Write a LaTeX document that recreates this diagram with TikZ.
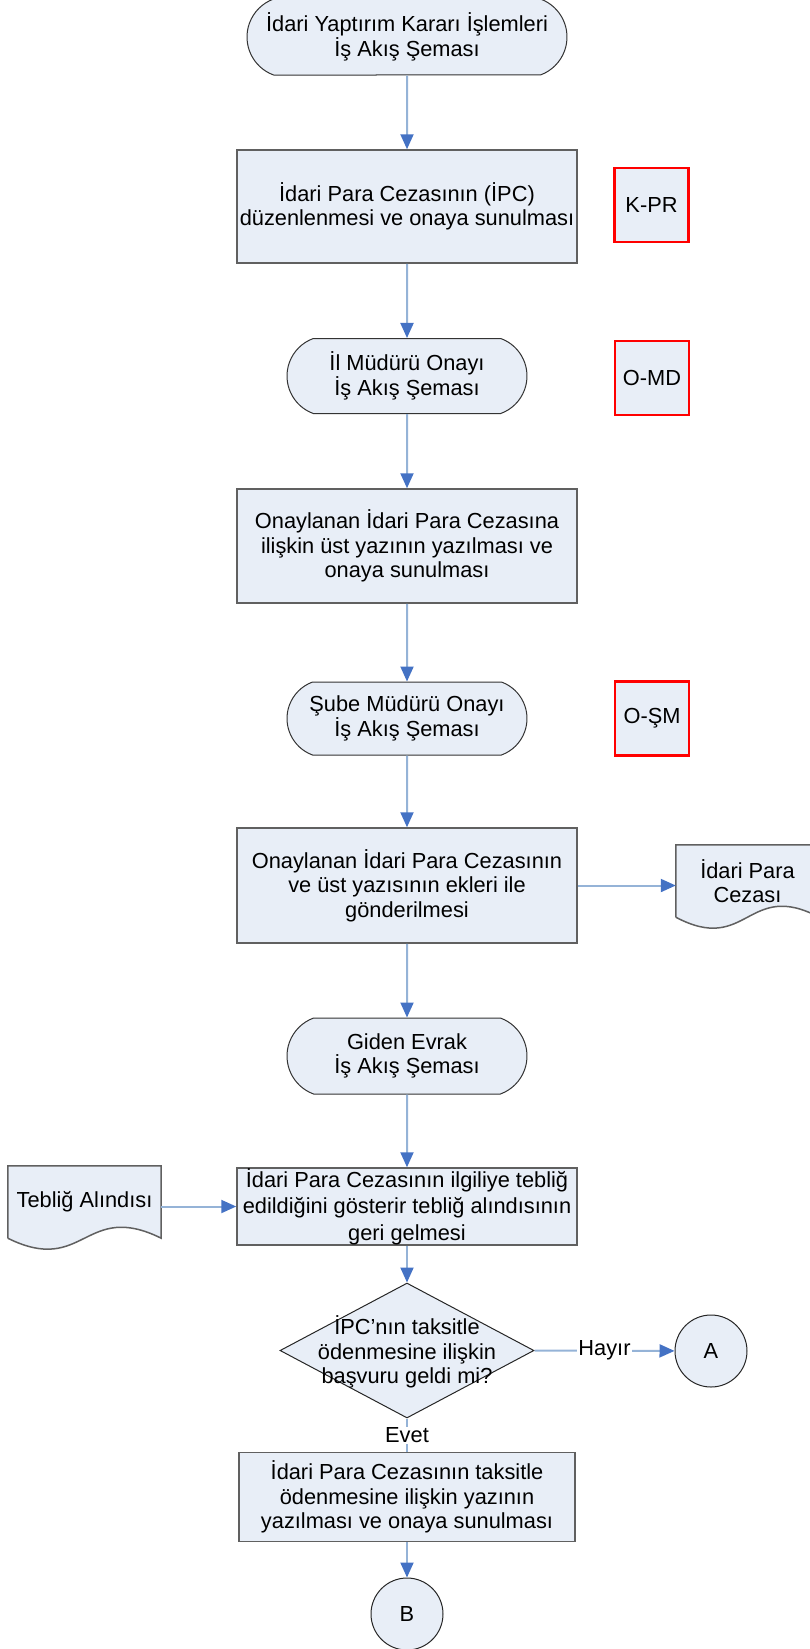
\documentclass[tikz,border=0pt]{standalone}
\usepackage{fontspec}
\setmainfont{Liberation Sans}
\usetikzlibrary{arrows.meta,shapes.misc,shapes.geometric,calc,backgrounds}

\definecolor{boxfill}{HTML}{E8EEF7}
\definecolor{linkblue}{HTML}{95B3D7}
\definecolor{tipblue}{HTML}{4472C4}
\definecolor{edgegray}{HTML}{606060}

\tikzset{
  every node/.style={font=\fontsize{21.8}{24.5}\selectfont, align=center},
  box/.style={draw=edgegray, line width=1.5pt, fill=boxfill, minimum width=340pt, inner sep=0pt},
  term/.style={rounded rectangle, rounded rectangle arc length=140, draw=black!80, line width=1pt,
    fill=boxfill, minimum width=240pt, minimum height=75pt, inner sep=0pt},
  refbox/.style={draw=red, line width=2.8pt, fill=boxfill, minimum width=74pt, minimum height=74pt, inner sep=0pt},
  docnode/.style={minimum height=72pt, inner sep=0pt},
  decision/.style={diamond, draw=black!85, line width=1pt, fill=boxfill, minimum width=254pt,
    minimum height=135pt, inner sep=0pt},
  conn/.style={circle, draw=black!85, line width=1pt, fill=boxfill, minimum size=72pt, inner sep=0pt},
  flow/.style={draw=linkblue, line width=2pt, -{Triangle[length=15pt,width=13pt,color=tipblue]}},
  plainflow/.style={draw=linkblue, line width=2pt},
  lbl/.style={fill=white, inner sep=1pt}
}

% document shape with wavy bottom
\newcommand{\docshape}[1]{%
  \filldraw[fill=boxfill, draw=edgegray, line width=1.5pt]
    (#1.south west) -- (#1.north west) -- (#1.north east) -- (#1.south east)
    .. controls ($(#1.south)+(0,-38)$) and ($(#1.south)+(0,38)$) .. (#1.south west);}

\begin{document}
\begin{tikzpicture}[x=1pt,y=-1pt]
\useasboundingbox (0,0) rectangle (809,1649);

% main column
\node[term, minimum width=320pt, minimum height=76pt] (t1) at (407,37) {İdari Yaptırım Kararı İşlemleri\\İş Akış Şeması};
\node[box, minimum height=113pt] (b1) at (407,206.5) {İdari Para Cezasının (İPC)\\düzenlenmesi ve onaya sunulması};
\node[term] (t2) at (407,376) {İl Müdürü Onayı\\İş Akış Şeması};
\node[box, minimum height=114pt] (b2) at (407,546) {Onaylanan İdari Para Cezasına\\ilişkin üst yazının yazılması ve\\onaya sunulması};
\node[term, minimum height=73pt] (t3) at (407,718.5) {Şube Müdürü Onayı\\İş Akış Şeması};
\node[box, minimum height=115pt] (b3) at (407,885.5) {Onaylanan İdari Para Cezasının\\ve üst yazısının ekleri ile\\gönderilmesi};
\node[term, minimum height=76pt] (t4) at (407,1056) {Giden Evrak\\İş Akış Şeması};
\node[box, minimum height=77pt, font=\fontsize{21.8}{26.5}\selectfont] (b4) at (407,1206.5) {İdari Para Cezasının ilgiliye tebliğ\\edildiğini gösterir tebliğ alındısının\\geri gelmesi};
\node[decision] (dec) at (407,1350.5) {};
\node (dectext) at (407,1352) {İPC’nın taksitle\\ödenmesine ilişkin\\başvuru geldi mi?};
\node[box, minimum width=336pt, minimum height=89pt] (b5) at (407,1497) {İdari Para Cezasının taksitle\\ödenmesine ilişkin yazının\\yazılması ve onaya sunulması};
\node[conn] (cB) at (407,1614) {B};
\node[conn] (cA) at (711,1351) {A};

% side boxes
\node[refbox] (kpr) at (651.5,205) {K-PR};
\node[refbox] (omd) at (652,378) {O-MD};
\node[refbox] (osm) at (652,718.5) {O-ŞM};

% documents
\node[docnode, minimum width=143pt] (doc1) at (747.5,881) {İdari Para\\Cezası};
\node[docnode, minimum width=153pt] (doc2) at (84.5,1202) {Tebliğ Alındısı};
\begin{scope}[on background layer]
\docshape{doc1}
\docshape{doc2}
\end{scope}

% connectors
\draw[flow] (t1) -- (b1);
\draw[flow] (b1) -- (t2);
\draw[flow] (t2) -- (b2);
\draw[flow] (b2) -- (t3);
\draw[flow] (t3) -- (b3);
\draw[flow] (b3) -- (t4);
\draw[flow] (t4) -- (b4);
\draw[flow] (b4) -- (dec);
\draw[flow] (b3.east) -- (b3.east -| doc1.west);
\draw[flow] (doc2.east |- b4.west) -- (b4.west);
\draw[flow] (dec.east) -- node[lbl] (hayir) {Hayır} (cA);
\draw[plainflow] (dec.south) -- node[lbl] (evet) {Evet} (b5.north);
\draw[flow] (b5) -- (cB);
\end{tikzpicture}
\end{document}
